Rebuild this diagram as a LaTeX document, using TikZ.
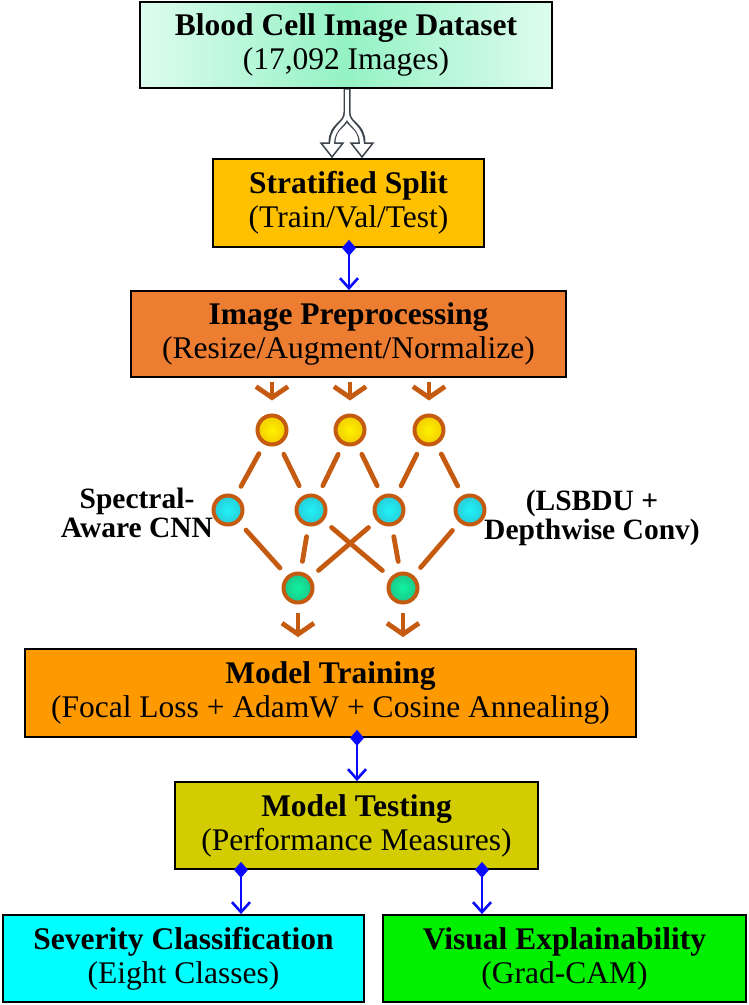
\documentclass[tikz,border=0pt]{standalone}
\usepackage{fontspec}
\setmainfont{Liberation Serif}
\usetikzlibrary{arrows.meta,calc}
\definecolor{mintD}{HTML}{94F2C4}
\definecolor{mintL}{HTML}{DDFCEE}
\definecolor{goldC}{HTML}{FFC000}
\definecolor{prepC}{HTML}{ED7D31}
\definecolor{trainC}{HTML}{FF9900}
\definecolor{testC}{HTML}{D2CC00}
\definecolor{sevC}{HTML}{00FFFF}
\definecolor{visC}{HTML}{00F000}
\definecolor{brn}{HTML}{C55A11}
\definecolor{bl}{HTML}{0A0AFF}
\definecolor{forkC}{HTML}{3C434B}
\definecolor{yelC}{HTML}{FFF200}
\definecolor{yelD}{HTML}{F2CC00}
\definecolor{cyC}{HTML}{20F2F8}
\definecolor{cyD}{HTML}{28CCD6}
\definecolor{grC}{HTML}{10F2A2}
\definecolor{grD}{HTML}{1CC686}
\newcommand{\boxtxt}[2]{\textbf{#1}\\#2}
\tikzset{
  box/.style={draw=black, line width=1.8pt, inner sep=0pt, align=center,
    font={\fontsize{31.5}{34}\selectfont}},
  sidelbl/.style={align=center, inner sep=0pt,
    font={\fontsize{29.5}{29}\selectfont\bfseries}},
  neuron/.style={circle, draw=brn, line width=4pt, minimum size=29pt, inner sep=0pt},
  wire/.style={draw=brn, line width=4.8pt, line cap=round, shorten <=10.5pt, shorten >=10.5pt},
  oarrow/.style={draw=brn, line width=4.8pt, -{Straight Barb[length=11pt,width=32pt]}},
  barrow/.style={draw=bl, line width=2.6pt, {Diamond[length=16pt,width=14pt]}-{Straight Barb[length=10pt,width=18pt]}, shorten <=-8pt}
}
\begin{document}
\begin{tikzpicture}[x=1pt,y=-1pt]
\useasboundingbox (0,0) rectangle (748,1005);
% boxes
\node[box, minimum width=412pt, minimum height=86pt, left color=mintL, right color=mintL, middle color=mintD]
  (data) at (346,45) {\boxtxt{Blood Cell Image Dataset}{(17,092 Images)}};
\node[box, fill=goldC, minimum width=271pt, minimum height=88pt]
  (split) at (348.5,203) {\boxtxt{Stratified Split}{(Train/Val/Test)}};
\node[box, fill=prepC, minimum width=435pt, minimum height=86pt]
  (prep) at (348.5,334) {\boxtxt{Image Preprocessing}{(Resize/Augment/Normalize)}};
\node[box, fill=trainC, minimum width=611pt, minimum height=88pt]
  (train) at (330.5,693) {\boxtxt{Model Training}{(Focal Loss + AdamW + Cosine Annealing)}};
\node[box, fill=testC, minimum width=363pt, minimum height=87pt]
  (test) at (356.5,825.5) {\boxtxt{Model Testing}{(Performance Measures)}};
\node[box, fill=sevC, minimum width=361pt, minimum height=87pt]
  (sev) at (183.5,958.5) {\boxtxt{Severity Classification}{(Eight Classes)}};
\node[box, fill=visC, minimum width=363pt, minimum height=87pt]
  (vis) at (564.5,958.5) {\boxtxt{Visual Explainability}{(Grad-CAM)}};

% fork arrow
\coordinate (fs) at (347,112);
\coordinate (fl) at (332,143);
\coordinate (fr) at (362,143);
\draw[forkC, line width=7pt] (data.south -| fs) -- (fs)
  .. controls (347,126) and (332,124) .. (fl)
  (fs) .. controls (347,126) and (362,124) .. (fr);
\filldraw[fill=white, draw=forkC, line width=1.5pt, line join=miter]
  (321,143) -- (343,143) -- (332,157) -- cycle;
\filldraw[fill=white, draw=forkC, line width=1.5pt, line join=miter]
  (351,143) -- (373,143) -- (362,157) -- cycle;
\draw[white, line width=3.8pt] (347,89.5) -- (fs)
  .. controls (347,126) and (332,124) .. (332,146)
  (fs) .. controls (347,126) and (362,124) .. (362,146);

% blue connectors
\coordinate (cA) at (349,0);
\coordinate (cB) at (357,0);
\coordinate (cC) at (241,0);
\coordinate (cD) at (482,0);
\draw[barrow] (split.south -| cA) -- (prep.north -| cA);
\draw[barrow] (train.south -| cB) -- (test.north -| cB);
\draw[barrow] (test.south -| cC) -- (sev.north -| cC);
\draw[barrow] (test.south -| cD) -- (vis.north -| cD);

% network
\node[neuron, inner color=yelC, outer color=yelD] (t1) at (272,430) {};
\node[neuron, inner color=yelC, outer color=yelD] (t2) at (350,430) {};
\node[neuron, inner color=yelC, outer color=yelD] (t3) at (429,430) {};
\node[neuron, inner color=cyC, outer color=cyD] (m1) at (228,510) {};
\node[neuron, inner color=cyC, outer color=cyD] (m2) at (311,510) {};
\node[neuron, inner color=cyC, outer color=cyD] (m3) at (389,510) {};
\node[neuron, inner color=cyC, outer color=cyD] (m4) at (470,510) {};
\node[neuron, inner color=grC, outer color=grD] (b1) at (298,588) {};
\node[neuron, inner color=grC, outer color=grD] (b2) at (403,588) {};

\draw[wire] (t1) -- (m1);
\draw[wire] (t1) -- (m2);
\draw[wire] (t2) -- (m2);
\draw[wire] (t2) -- (m3);
\draw[wire] (t3) -- (m3);
\draw[wire] (t3) -- (m4);
\draw[wire] (m1) -- (b1);
\draw[wire] (m2) -- (b1);
\draw[wire] (m2) -- (b2);
\draw[wire] (m3) -- (b1);
\draw[wire] (m3) -- (b2);
\draw[wire] (m4) -- (b2);

\draw[oarrow, shorten <=4pt, shorten >=13pt] (prep.south -| t1) -- (t1);
\draw[oarrow, shorten <=4pt, shorten >=13pt] (prep.south -| t2) -- (t2);
\draw[oarrow, shorten <=4pt, shorten >=13pt] (prep.south -| t3) -- (t3);
\draw[oarrow, shorten <=8pt, shorten >=11pt] (b1) -- (train.north -| b1);
\draw[oarrow, shorten <=8pt, shorten >=11pt] (b2) -- (train.north -| b2);

% side labels
\node[sidelbl] (lblL) at (137,513) {Spectral-\\Aware CNN};
\node[sidelbl] (lblR) at (592,518) {(LSBDU +\\Depthwise Conv)};
\end{tikzpicture}
\end{document}
